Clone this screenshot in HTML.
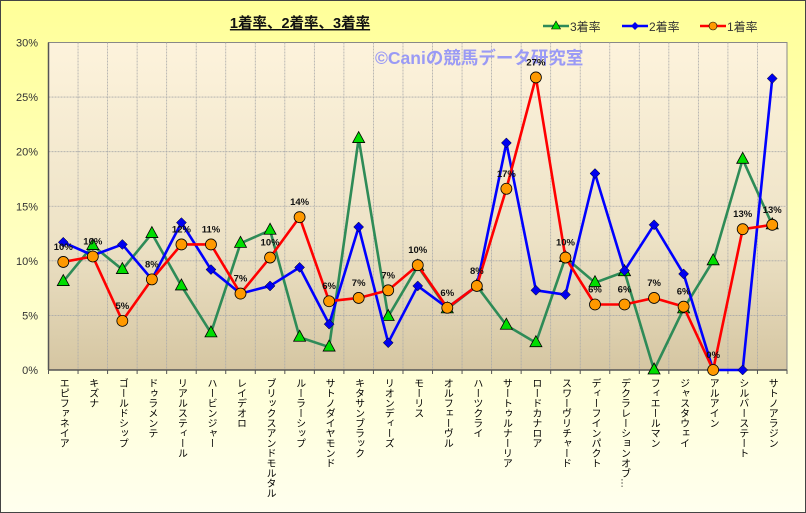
<!DOCTYPE html>
<html><head><meta charset="utf-8"><style>
body{margin:0;width:806px;height:513px;overflow:hidden;font-family:"Liberation Sans","Noto Sans CJK JP",sans-serif}
#w{position:absolute;left:0;top:0;width:804px;height:511px;border:1px solid #444;background:linear-gradient(#ffff99,#ffffee)}
.xl{position:absolute;top:378px;writing-mode:vertical-rl;font-size:10px;color:#000;line-height:11px;white-space:nowrap}
</style></head><body><div id="w"></div>
<svg id="s" width="806" height="513" style="position:absolute;left:0;top:0" xmlns="http://www.w3.org/2000/svg"></svg>
<script>
const L=48.5,T=42.5,R=787,B=370,n=25,dx=(R-L)/n,py=v=>B-v*(B-T)/30,px=i=>L+dx*(i+.5);
const names=["エピファネイア","キズナ","ゴールドシップ","ドゥラメンテ","リアルスティール","ハービンジャー","レイデオロ","ブリックスアンドモルタル","ルーラーシップ","サトノダイヤモンド","キタサンブラック","リオンディーズ","モーリス","オルフェーヴル","ハーツクライ","サートゥルナーリア","ロードカナロア","スワーヴリチャード","ディーフインパクト","デクラレーションオブ…","フィエールマン","ジャスタウェイ","アルアイン","シルバーステート","サトノアラジン"];
const r=[9.9,10.4,4.5,8.3,11.5,11.5,7.0,10.3,14.0,6.3,6.6,7.3,9.6,5.7,7.7,16.6,26.8,10.3,6.0,6.0,6.6,5.8,0,12.9,13.3];
const b=[11.7,10.5,11.5,8.3,13.5,9.2,7.0,7.7,9.4,4.2,13.1,2.5,7.7,5.7,7.7,20.8,7.3,6.9,18.0,9.1,13.3,8.8,0,0,26.7];
const g=[8.1,11.4,9.2,12.5,7.7,3.4,11.6,12.8,3.0,2.1,21.2,4.9,9.5,5.6,7.7,4.1,2.5,10.3,8.0,9.0,0,5.6,10.0,19.3,13.3];
const lab=[10,10,5,8,12,11,7,10,14,6,7,7,10,6,8,17,27,10,6,6,7,6,0,13,13];
let s=`<defs><linearGradient id="pg" x1="0" y1="0" x2="0" y2="1"><stop offset="0" stop-color="#fdf3dc"/><stop offset=".6" stop-color="#ede2c6"/><stop offset="1" stop-color="#d5c6a2"/></linearGradient></defs>`;
s+=`<rect x="${L}" y="${T}" width="${R-L}" height="${B-T}" fill="url(#pg)" stroke="#888" stroke-width="1"/>`;
for(let i=1;i<n;i++){const x=L+dx*i;s+=`<line x1="${x}" y1="${T}" x2="${x}" y2="${B}" stroke="#aaa" stroke-dasharray="2,1" stroke-width="0.8"/>`}
for(let v=0;v<=30;v+=5){const y=py(v);if(v>0&&v<30)s+=`<line x1="${L}" y1="${y}" x2="${R}" y2="${y}" stroke="#aaa" stroke-dasharray="2,1" stroke-width="0.8"/>`;s+=`<text x="38" y="${y+4}" font-size="11" text-anchor="end" fill="#333">${v}%</text>`}
s+=`<line x1="${L}" y1="${T}" x2="${L}" y2="${B}" stroke="#555" stroke-width="1.5"/><line x1="${L}" y1="${B}" x2="${R}" y2="${B}" stroke="#555" stroke-width="1.5"/>`;
for(let i=0;i<=n;i++){const x=L+dx*i;s+=`<line x1="${x}" y1="${B}" x2="${x}" y2="${B+4}" stroke="#555"/>`}
s+=`<text x="375" y="64" font-size="17.5" font-weight="bold" fill="#9a9af5">©Caniの競馬データ研究室</text>`;
s+=`<text x="300" y="28" font-size="14.5" font-weight="bold" text-anchor="middle" text-decoration="underline" fill="#111">1着率、2着率、3着率</text>`;
const pl=(a,c)=>`<polyline fill="none" stroke="${c}" stroke-width="2.6" stroke-linejoin="round" points="${a.map((v,i)=>px(i)+','+py(v)).join(' ')}"/>`;
s+=pl(g,"#2e8b57");
g.forEach((v,i)=>{const x=px(i),y=py(v);s+=`<polygon points="${x},${y-7} ${x-6},${y+4} ${x+6},${y+4}" fill="#00dd00" stroke="#000" stroke-width=".8"/>`});
s+=pl(b,"#0000ff");
b.forEach((v,i)=>{const x=px(i),y=py(v);s+=`<polygon points="${x},${y-5} ${x+5},${y} ${x},${y+5} ${x-5},${y}" fill="#0000ee" stroke="#000" stroke-width=".5"/>`});
s+=pl(r,"#ff0000");
r.forEach((v,i)=>{const x=px(i),y=py(v);s+=`<circle cx="${x}" cy="${y}" r="5.5" fill="#ff9900" stroke="#000" stroke-width=".8"/>`;s+=`<text x="${x}" y="${y-12}" font-size="9.5" font-weight="bold" text-anchor="middle" fill="#111">${lab[i]}%</text>`});
const lg=[[543,"#2e8b57","t","3着率"],[622,"#0000ff","d","2着率"],[700,"#ff0000","c","1着率"]];
lg.forEach(([x,c,m,t])=>{const y=26;s+=`<line x1="${x}" y1="${y}" x2="${x+26}" y2="${y}" stroke="${c}" stroke-width="2.5"/>`;const cx=x+13;
if(m=="t")s+=`<polygon points="${cx},${y-5} ${cx-4.5},${y+3} ${cx+4.5},${y+3}" fill="#00dd00" stroke="#000" stroke-width=".6"/>`;
if(m=="d")s+=`<polygon points="${cx},${y-4} ${cx+4},${y} ${cx},${y+4} ${cx-4},${y}" fill="#0000ee"/>`;
if(m=="c")s+=`<circle cx="${cx}" cy="${y}" r="4" fill="#ff9900" stroke="#000" stroke-width=".6"/>`;
s+=`<text x="${x+27}" y="${y+5}" font-size="12" fill="#333">${t}</text>`});
document.getElementById('s').innerHTML=s;
let h='';names.forEach((t,i)=>{h+=`<div class="xl" style="left:${px(i)-6}px">${t}</div>`});
document.body.insertAdjacentHTML('beforeend',h);
</script></body></html>
